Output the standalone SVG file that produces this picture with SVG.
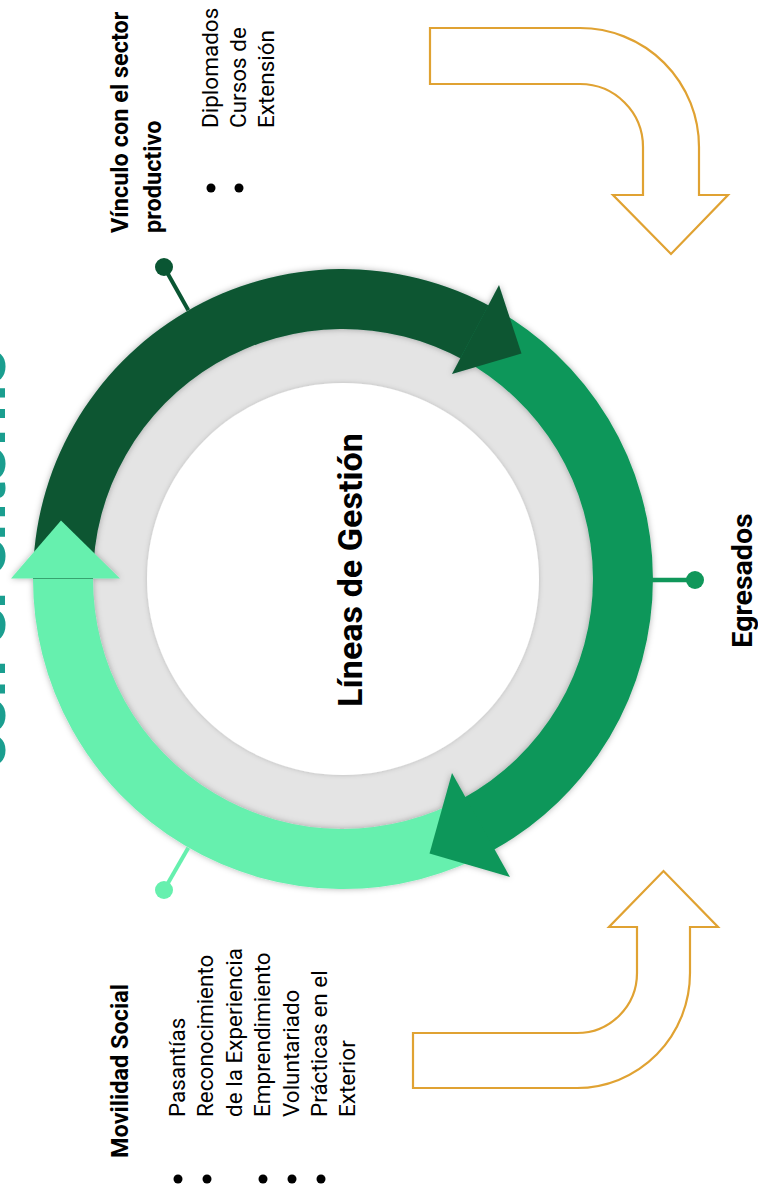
<svg xmlns="http://www.w3.org/2000/svg" width="758" height="1197" viewBox="0 0 758 1197">
<defs>
<style>
.b{font-family:Roboto,"Liberation Sans",sans-serif;font-weight:700;fill:#000}
.r{font-family:Roboto,"Liberation Sans",sans-serif;font-weight:400;fill:#000}
.gold{fill:#fff;stroke:#e0a232;stroke-width:2.2;stroke-linejoin:miter}
.dk{fill:#0a5633}
.md{fill:#10975a}
.lt{fill:#66f0ae}
</style>
<filter id="sh" x="-20%" y="-20%" width="140%" height="140%">
<feDropShadow dx="0" dy="0" stdDeviation="3" flood-color="#000" flood-opacity="0.3"/>
</filter>
<filter id="sh2" x="-20%" y="-20%" width="140%" height="140%">
<feDropShadow dx="0" dy="0" stdDeviation="2.5" flood-color="#000" flood-opacity="0.18"/>
</filter>
</defs>
<rect width="758" height="1197" fill="#fff"/>

<text class="b" transform="translate(5,768) rotate(-90)" font-size="60" textLength="420" lengthAdjust="spacingAndGlyphs" style="fill:#1a9e8f">con el entorno</text>

<g id="ring-base">
<circle cx="343" cy="579" r="252" fill="#e4e4e4"/>
<circle cx="343" cy="579" r="196" fill="#fff" filter="url(#sh2)"/>
</g>

<g id="cycle" filter="url(#sh)">
<path class="lt" d="M495.6,848.8 A310,310 0 0 1 33.05,573.6 L93.04,574.6 A250,250 0 0 0 466.1,796.6 Z"/>
<path class="dk" d="M33,579 A310,310 0 0 1 493.3,307.9 L464.2,360.3 A250,250 0 0 0 93,579 Z"/>
<path class="md" d="M488.5,305.3 A310,310 0 0 1 490.9,851.4 L462.3,798.7 A250,250 0 0 0 460.4,358.3 Z"/>
<polygon class="dk" points="499,285 521.5,353.5 452,374"/>
<polygon class="md" points="452,773 510,877 429.5,853.5"/>
<polygon class="lt" points="11,578.5 61,520.5 120,578.5"/>
</g>

<g id="center-label">
<text class="b" transform="translate(362,570) rotate(-90)" font-size="34" text-anchor="middle" textLength="274" lengthAdjust="spacingAndGlyphs">Líneas de Gestión</text>
</g>

<g id="connectors">
<line x1="188.3" y1="310.2" x2="164" y2="267" stroke="#0a5633" stroke-width="4"/>
<circle cx="164" cy="267" r="9" fill="#0a5633"/>
<line x1="650" y1="580" x2="695" y2="580" stroke="#10975a" stroke-width="4.5"/>
<circle cx="695" cy="580" r="9" fill="#10975a"/>
<line x1="188.3" y1="847.8" x2="164" y2="890" stroke="#66f0ae" stroke-width="4"/>
<circle cx="164" cy="890" r="9" fill="#66f0ae"/>
<path class="gold" d="M430,28 L580,28 A119,119 0 0 1 699,147 L699,195 L728,195 L671,254 L613,195 L643,195 L643,147 A63,63 0 0 0 580,84 L430,84 Z"/>
<path class="gold" d="M413,1033 L577,1033 A60,60 0 0 0 637,973 L637,927 L609,927 L663.5,871 L718,927 L690,927 L690,973 A113,115 0 0 1 577,1088 L413,1088 Z"/>
</g>

<g id="node-vinculo">
<text class="b" transform="translate(128,233) rotate(-90)" font-size="23.5"><tspan x="0" dy="0">Vínculo con el sector</tspan><tspan x="0" dy="33">productivo</tspan></text>
<circle cx="211" cy="188" r="4.5" fill="#000"/>
<circle cx="239" cy="188" r="4.5" fill="#000"/>
<text class="r" transform="translate(218,128) rotate(-90)" font-size="22.5"><tspan x="0" dy="0">Diplomados</tspan><tspan x="0" dy="28">Cursos de</tspan><tspan x="0" dy="28">Extensión</tspan></text>
</g>

<g id="node-egresados">
<text class="b" transform="translate(752,580.5) rotate(-90)" font-size="28.5" text-anchor="middle">Egresados</text>
</g>

<g id="node-movilidad">
<text class="b" transform="translate(128,1158) rotate(-90)" font-size="23.5">Movilidad Social</text>
<circle cx="178" cy="1179" r="4.5" fill="#000"/>
<circle cx="207" cy="1179" r="4.5" fill="#000"/>
<circle cx="263" cy="1179" r="4.5" fill="#000"/>
<circle cx="292" cy="1179" r="4.5" fill="#000"/>
<circle cx="321" cy="1179" r="4.5" fill="#000"/>
<text class="r" transform="translate(185,1117) rotate(-90)" font-size="22.5"><tspan x="0" dy="0">Pasantías</tspan><tspan x="0" dy="28.4">Reconocimiento</tspan><tspan x="0" dy="28.4">de la Experiencia</tspan><tspan x="0" dy="28.4">Emprendimiento</tspan><tspan x="0" dy="28.4">Voluntariado</tspan><tspan x="0" dy="28.4">Prácticas en el</tspan><tspan x="0" dy="28.4">Exterior</tspan></text>
</g>
</svg>
